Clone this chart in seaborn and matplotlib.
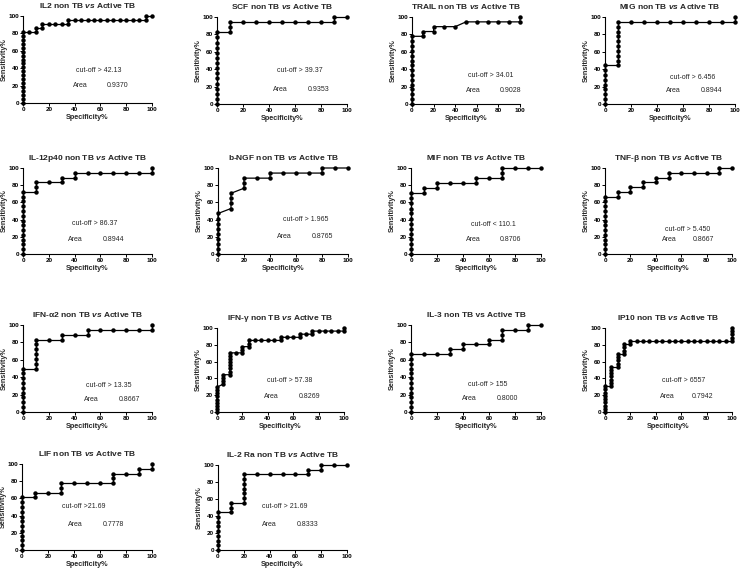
import matplotlib
matplotlib.use("Agg")
import matplotlib.pyplot as plt
import seaborn as sns
import pandas as pd

# ---------------- data ----------------
titles = [
    "IL2 non TB $\\mathit{vs}$ Active TB",
    "SCF non TB $\\mathit{vs}$ Active TB",
    "TRAIL non TB $\\mathit{vs}$ Active TB",
    "MIG non TB $\\mathit{vs}$ Active TB",
    "IL-12p40 non TB $\\mathit{vs}$ Active TB",
    "b-NGF non TB $\\mathit{vs}$ Active TB",
    "MIF non TB $\\mathit{vs}$ Active TB",
    "TNF-β non TB $\\mathit{vs}$ Active TB",
    "IFN-α2 non TB $\\mathit{vs}$ Active TB",
    "IFN-γ non TB $\\mathit{vs}$ Active TB",
    "IL-3 non TB vs Active TB",
    "IP10 non TB $\\mathit{vs}$ Active TB",
    "LIF non TB $\\mathit{vs}$ Active TB",
    "IL-2 Ra non TB $\\mathit{vs}$ Active TB",
]
cutoffs = ["cut-off > 42.13", "cut-off > 39.37", "cut-off > 34.01", "cut-off > 6.456",
           "cut-off > 86.37", "cut-off > 1.965", "cut-off < 110.1", "cut-off > 5.450",
           "cut-off > 13.35", "cut-off > 57.38", "cut-off > 155", "cut-off > 6557",
           "cut-off >21.69", "cut-off > 21.69"]
areas = ["0.9370", "0.9353", "0.9028", "0.8944", "0.8944", "0.8765", "0.8706", "0.8667",
         "0.8667", "0.8269", "0.8000", "0.7942", "0.7778", "0.8333"]

il2_spec = [0, 0, 0, 0, 0, 0, 0, 0, 0, 0, 0, 0, 0, 0, 0, 0, 0, 0, 0,
            5, 10, 10, 15, 15, 20, 25, 30, 35, 35, 40, 45, 50, 55, 60, 65, 70, 75, 80, 85, 90, 95, 95, 100]
il2_sens = [0, 4.5, 9.1, 13.6, 18.2, 22.7, 27.3, 31.8, 36.4, 40.9, 45.5, 50.0, 54.5, 59.1, 63.6, 68.2, 72.7, 77.3, 81.8,
            81.8, 81.8, 86.4, 86.4, 90.9, 90.9, 90.9, 90.9, 90.9, 95.5, 95.5, 95.5, 95.5, 95.5, 95.5, 95.5, 95.5, 95.5, 95.5, 95.5, 95.5, 95.5, 100, 100]

scf_spec = [0, 0, 0, 0, 0, 0, 0, 0, 0, 0, 0, 0, 0, 0, 0,
            10, 10, 10, 20, 30, 40, 50, 60, 70, 80, 90, 90, 100]
scf_sens = [0, 5.9, 11.8, 17.6, 23.5, 29.4, 35.3, 41.2, 47.1, 52.9, 58.8, 64.7, 70.6, 76.5, 82.4,
            82.4, 88.2, 94.1, 94.1, 94.1, 94.1, 94.1, 94.1, 94.1, 94.1, 94.1, 100, 100]

trail_spec = [0, 0, 0, 0, 0, 0, 0, 0, 0, 0, 0, 0, 0, 0, 0,
              10, 10, 20, 20, 30, 40, 50, 60, 70, 80, 90, 100, 100]
trail_sens = [0, 5.6, 11.1, 16.7, 22.2, 27.8, 33.3, 38.9, 44.4, 50.0, 55.6, 61.1, 66.7, 72.2, 77.8,
              77.8, 83.3, 83.3, 88.9, 88.9, 88.9, 94.4, 94.4, 94.4, 94.4, 94.4, 94.4, 100]

mig_spec = [0, 0, 0, 0, 0, 0, 0, 0, 0,
            10, 10, 10, 10, 10, 10, 10, 10, 10, 10, 20, 30, 40, 50, 60, 70, 80, 90, 100, 100]
mig_sens = [0, 5.6, 11.1, 16.7, 22.2, 27.8, 33.3, 38.9, 44.4,
            44.4, 50.0, 55.6, 61.1, 66.7, 72.2, 77.8, 83.3, 88.9, 94.4, 94.4, 94.4, 94.4, 94.4, 94.4, 94.4, 94.4, 94.4, 94.4, 100]

il12_spec = [0, 0, 0, 0, 0, 0, 0, 0, 0, 0, 0, 0, 0, 0,
             10, 10, 10, 20, 30, 30, 40, 40, 50, 60, 70, 80, 90, 100, 100]
il12_sens = [0, 5.6, 11.1, 16.7, 22.2, 27.8, 33.3, 38.9, 44.4, 50.0, 55.6, 61.1, 66.7, 72.2,
             72.2, 77.8, 83.3, 83.3, 83.3, 88.9, 88.9, 94.4, 94.4, 94.4, 94.4, 94.4, 94.4, 94.4, 100]

ngf_spec = [0, 0, 0, 0, 0, 0, 0, 0, 0,
            10, 10, 10, 10, 20, 20, 20, 30, 40, 40, 50, 60, 70, 80, 80, 90, 100]
ngf_sens = [0, 5.9, 11.8, 17.6, 23.5, 29.4, 35.3, 41.2, 47.1,
            52.9, 58.8, 64.7, 70.6, 76.5, 82.4, 88.2, 88.2, 88.2, 94.1, 94.1, 94.1, 94.1, 94.1, 100, 100, 100]

mif_spec = [0, 0, 0, 0, 0, 0, 0, 0, 0, 0, 0, 0, 0,
            10, 10, 20, 20, 30, 40, 50, 50, 60, 70, 70, 70, 80, 90, 100]
mif_sens = [0, 5.9, 11.8, 17.6, 23.5, 29.4, 35.3, 41.2, 47.1, 52.9, 58.8, 64.7, 70.6,
            70.6, 76.5, 76.5, 82.4, 82.4, 82.4, 82.4, 88.2, 88.2, 88.2, 94.1, 100, 100, 100, 100]

tnf_spec = [0, 0, 0, 0, 0, 0, 0, 0, 0, 0, 0, 0, 0,
            10, 10, 20, 20, 30, 30, 40, 40, 50, 50, 60, 70, 80, 90, 90, 100]
tnf_sens = [0, 5.6, 11.1, 16.7, 22.2, 27.8, 33.3, 38.9, 44.4, 50.0, 55.6, 61.1, 66.7,
            66.7, 72.2, 72.2, 77.8, 77.8, 83.3, 83.3, 88.9, 88.9, 94.4, 94.4, 94.4, 94.4, 94.4, 100, 100]

ifna_spec = [0, 0, 0, 0, 0, 0, 0, 0, 0, 0,
             10, 10, 10, 10, 10, 10, 10, 20, 30, 30, 40, 50, 50, 60, 70, 80, 90, 100, 100]
ifna_sens = [0, 5.6, 11.1, 16.7, 22.2, 27.8, 33.3, 38.9, 44.4, 50.0,
             50.0, 55.6, 61.1, 66.7, 72.2, 77.8, 83.3, 83.3, 83.3, 88.9, 88.9, 88.9, 94.4, 94.4, 94.4, 94.4, 94.4, 94.4, 100]

ifng_spec = [0, 0, 0, 0, 0, 0, 0, 0, 0,
             5, 5, 5, 5, 10, 10, 10, 10, 10, 10, 10, 10,
             15, 20, 20, 20, 25, 25, 25, 30, 35, 40, 45, 50, 50, 55, 60, 65, 65, 70, 75, 75, 80, 85, 90, 95, 100, 100]
ifng_sens = [0, 3.7, 7.4, 11.1, 14.8, 18.5, 22.2, 25.9, 29.6,
             33.3, 37.0, 40.7, 44.4, 44.4, 48.1, 51.9, 55.6, 59.3, 63.0, 66.7, 70.4,
             70.4, 70.4, 74.1, 77.8, 77.8, 81.5, 85.2, 85.2, 85.2, 85.2, 85.2, 85.2, 88.9, 88.9, 88.9, 88.9, 92.6, 92.6, 92.6, 96.3,
             96.3, 96.3, 96.3, 96.3, 96.3, 100]

il3_spec = [0, 0, 0, 0, 0, 0, 0, 0, 0, 0, 0, 0, 0,
            10, 20, 30, 30, 40, 40, 50, 60, 60, 70, 70, 70, 80, 90, 90, 100]
il3_sens = [0, 5.6, 11.1, 16.7, 22.2, 27.8, 33.3, 38.9, 44.4, 50.0, 55.6, 61.1, 66.7,
            66.7, 66.7, 66.7, 72.2, 72.2, 77.8, 77.8, 77.8, 83.3, 83.3, 88.9, 94.4, 94.4, 94.4, 100, 100]

ip10_spec = [0, 0, 0, 0, 0, 0, 0, 0, 0,
             5, 5, 5, 5, 5, 5, 5, 10, 10, 10, 10, 10, 15, 15, 15, 15, 20, 20,
             25, 30, 35, 40, 45, 50, 55, 60, 65, 70, 75, 80, 85, 90, 95,
             100, 100, 100, 100, 100]
ip10_sens = [0, 3.8, 7.7, 11.5, 15.4, 19.2, 23.1, 26.9, 30.8,
             30.8, 34.6, 38.5, 42.3, 46.2, 50.0, 53.8, 53.8, 57.7, 61.5, 65.4, 69.2, 69.2, 73.1, 76.9, 80.8, 80.8, 84.6,
             84.6, 84.6, 84.6, 84.6, 84.6, 84.6, 84.6, 84.6, 84.6, 84.6, 84.6, 84.6, 84.6, 84.6, 84.6,
             84.6, 88.5, 92.3, 96.2, 100]

lif_spec = [0, 0, 0, 0, 0, 0, 0, 0, 0, 0, 0, 0,
            10, 10, 20, 30, 30, 30, 40, 50, 60, 70, 70, 70, 80, 90, 90, 100, 100]
lif_sens = [0, 5.6, 11.1, 16.7, 22.2, 27.8, 33.3, 38.9, 44.4, 50.0, 55.6, 61.1,
            61.1, 66.7, 66.7, 66.7, 72.2, 77.8, 77.8, 77.8, 77.8, 77.8, 83.3, 88.9, 88.9, 88.9, 94.4, 94.4, 100]

il2ra_spec = [0, 0, 0, 0, 0, 0, 0, 0, 0,
              10, 10, 10, 20, 20, 20, 20, 20, 20, 20, 30, 40, 50, 60, 70, 70, 80, 80, 90, 100]
il2ra_sens = [0, 5.6, 11.1, 16.7, 22.2, 27.8, 33.3, 38.9, 44.4,
              44.4, 50.0, 55.6, 55.6, 61.1, 66.7, 72.2, 77.8, 83.3, 88.9, 88.9, 88.9, 88.9, 88.9, 88.9, 94.4, 94.4, 100, 100, 100]

curves = [(il2_spec, il2_sens), (scf_spec, scf_sens), (trail_spec, trail_sens), (mig_spec, mig_sens),
          (il12_spec, il12_sens), (ngf_spec, ngf_sens), (mif_spec, mif_sens), (tnf_spec, tnf_sens),
          (ifna_spec, ifna_sens), (ifng_spec, ifng_sens), (il3_spec, il3_sens), (ip10_spec, ip10_sens),
          (lif_spec, lif_sens), (il2ra_spec, il2ra_sens)]

# ---------------- layout (pixels: left, right, top, bottom) ----------------
rects = [(23, 152, 16, 103), (217, 347, 17, 104), (412, 520, 17, 104), (605, 735, 17, 104),
         (23, 152, 168, 254), (218, 348, 168, 254), (411, 541, 168, 254), (605, 732, 168, 254),
         (23, 152, 325, 412), (217, 344, 328, 412), (411, 541, 325, 412), (605, 732, 328, 412),
         (22, 152, 464, 550), (218, 347, 465, 550)]
# text positions in data coords: cut-off x, cut-off y, Area x, value x, Area y
text_pos = [(41, 37, 39, 65, 20), (46, 38, 43, 70, 17), (52, 33, 50, 81, 15), (50, 31, 47, 74, 16),
            (38, 36, 35, 62, 17), (50, 40, 45, 72, 20), (46, 34, 42, 68, 17), (47, 29, 45, 69, 17),
            (49, 31, 47, 74, 14), (39, 37, 37, 64, 18), (44, 32, 39, 66, 15), (45, 38, 43, 68, 18),
            (31, 51, 35, 62, 30), (34, 51, 34, 61, 30)]

sns.set_theme(style="ticks")
plt.rcParams['font.family'] = ['Liberation Sans', 'DejaVu Sans']
plt.rcParams['mathtext.fontset'] = 'custom'
plt.rcParams['mathtext.it'] = 'Liberation Sans:italic:bold'
plt.rcParams['mathtext.rm'] = 'Liberation Sans:bold'
plt.rcParams['mathtext.bf'] = 'Liberation Sans:bold'

W, H = 740, 585
fig = plt.figure(figsize=(W / 100, H / 100), dpi=100)
fig.patch.set_facecolor('white')

for i, (title, (xs, ys)) in enumerate(zip(titles, curves)):
    l, r, t, b = rects[i]
    ax = fig.add_axes([l / W, 1 - b / H, (r - l) / W, (b - t) / H])
    df = pd.DataFrame({"Specificity": xs, "Sensitivity": ys})
    sns.lineplot(data=df, x="Specificity", y="Sensitivity", sort=False, estimator=None,
                 color="black", marker="o", markersize=3.2, markeredgewidth=0,
                 linewidth=0.9, ax=ax)
    for ln in ax.lines:
        ln.set_clip_on(False)
    ax.set_xlim(0, 100)
    ax.set_ylim(0, 100)
    ax.set_xticks([0, 20, 40, 60, 80, 100])
    ax.set_yticks([0, 20, 40, 60, 80, 100])
    sns.despine(ax=ax)
    for s in ("left", "bottom"):
        ax.spines[s].set_color("black")
        ax.spines[s].set_linewidth(0.8)
    ax.tick_params(labelsize=4.6, length=2, width=0.7, pad=1, colors="black")
    for lab in ax.get_xticklabels() + ax.get_yticklabels():
        lab.set_fontweight("bold")
    ax.set_xlabel("Specificity%", fontsize=5.2, fontweight="bold", labelpad=1.5)
    ax.set_ylabel("Sensitivity%", fontsize=5.2, fontweight="bold")
    ax.yaxis.set_label_coords(-15.0 / (r - l), 0.5)
    ax.set_title(title, fontsize=6, fontweight="bold", pad=6)
    cx, cy, axx, vx, ay = text_pos[i]
    ax.text(cx, cy, cutoffs[i], fontsize=5, va="center", ha="left")
    ax.text(axx, ay, "Area", fontsize=5, va="center", ha="left")
    ax.text(vx, ay, areas[i], fontsize=5, va="center", ha="left")
    ax.set_facecolor("white")

fig.savefig("out.png", dpi=100, facecolor="white")
